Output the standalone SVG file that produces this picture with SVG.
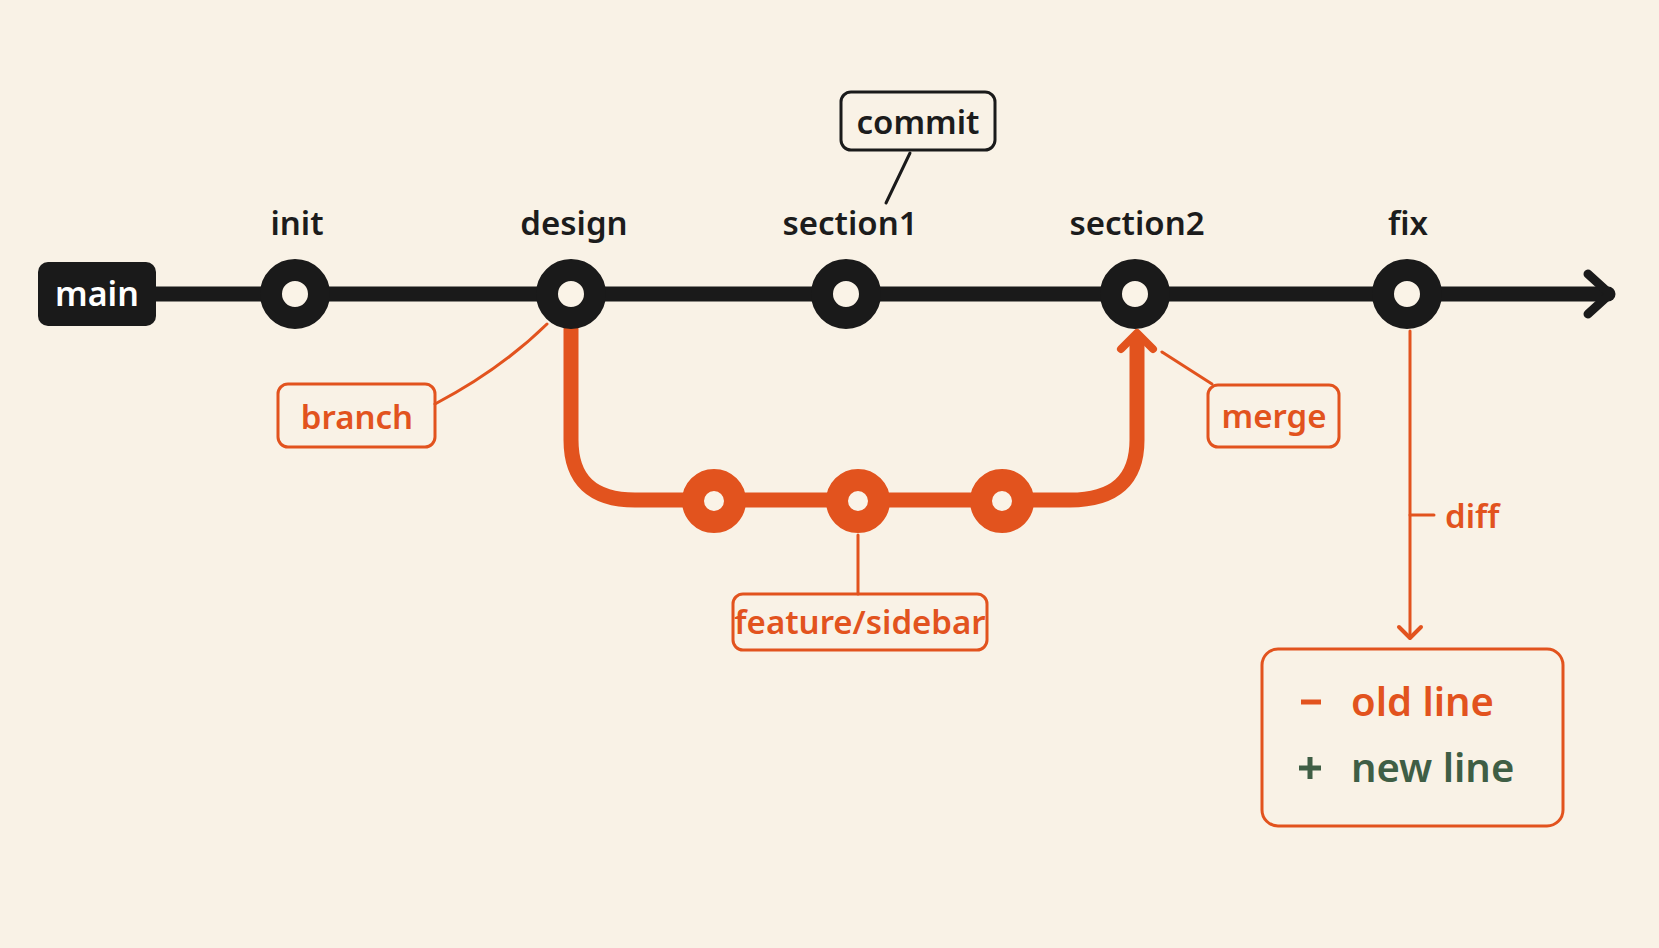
<svg xmlns="http://www.w3.org/2000/svg" width="1659" height="948" viewBox="0 0 1659 948">
<style>
text{font-family:"Noto Sans","Open Sans",sans-serif;font-weight:600}
.lbl{font-size:33px;fill:#1c1c1c;text-anchor:middle}
.olbl{font-size:33px;fill:#e2531e;text-anchor:middle}
.bc{fill:#faf3e7;stroke:#1a1a1a;stroke-width:22}
.oc{fill:#faf3e7;stroke:#e2531e;stroke-width:22}
.obox{fill:none;stroke:#e2531e;stroke-width:3}
</style>
<rect width="1659" height="948" fill="#f9f2e6"/>
<g id="connectors" fill="none" stroke-linecap="round" stroke-linejoin="round">
<line x1="156" y1="294" x2="1608" y2="294" stroke="#1a1a1a" stroke-width="15"/>
<polyline points="1588,274 1610,294 1588,314" stroke="#1a1a1a" stroke-width="9"/>
<path d="M571,329 V440 Q571,500 635,500 H1070 Q1137,500 1137,440 V340" stroke="#e2531e" stroke-width="15"/>
<polyline points="1121,349 1137,333 1153,349" stroke="#e2531e" stroke-width="8"/>
<path d="M435,404 Q500,370 547,324" stroke="#e2531e" stroke-width="3"/>
<line x1="858" y1="535" x2="858" y2="594" stroke="#e2531e" stroke-width="3"/>
<line x1="1162" y1="352" x2="1212" y2="384" stroke="#e2531e" stroke-width="3"/>
<line x1="910" y1="153" x2="886" y2="203" stroke="#1a1a1a" stroke-width="3"/>
<line x1="1410" y1="331" x2="1410" y2="638" stroke="#e2531e" stroke-width="3"/>
<line x1="1410" y1="515" x2="1434" y2="515" stroke="#e2531e" stroke-width="3"/>
<polyline points="1399,627 1410,638 1421,627" stroke="#e2531e" stroke-width="4"/>
</g>
<g id="main"><rect x="38" y="262" width="118" height="64" rx="10" fill="#1a1a1a"/><text x="97" y="306" font-size="34" fill="#fff" text-anchor="middle">main</text></g>
<g id="init"><circle class="bc" cx="295" cy="294" r="24"/><text class="lbl" x="297" y="235">init</text></g>
<g id="design"><circle class="bc" cx="571" cy="294" r="24"/><text class="lbl" x="574" y="235">design</text></g>
<g id="section1"><circle class="bc" cx="846" cy="294" r="24"/><text class="lbl" x="850" y="235">section1</text></g>
<g id="section2"><circle class="bc" cx="1135" cy="294" r="24"/><text class="lbl" x="1137" y="235">section2</text></g>
<g id="fix"><circle class="bc" cx="1407" cy="294" r="24"/><text class="lbl" x="1408" y="235">fix</text></g>
<g id="commit"><rect x="841" y="92" width="154" height="58" rx="10" fill="none" stroke="#1a1a1a" stroke-width="3"/><text class="lbl" x="918" y="134">commit</text></g>
<g id="f1"><circle class="oc" cx="714" cy="501" r="21"/></g>
<g id="f2"><circle class="oc" cx="858" cy="501" r="21"/></g>
<g id="f3"><circle class="oc" cx="1002" cy="501" r="21"/></g>
<g id="branch"><rect class="obox" x="278" y="384" width="157" height="63" rx="10"/><text class="olbl" x="357" y="429">branch</text></g>
<g id="feature"><rect class="obox" x="733" y="594" width="254" height="56" rx="10"/><text class="olbl" x="860" y="634">feature/sidebar</text></g>
<g id="merge"><rect class="obox" x="1208" y="385" width="131" height="62" rx="10"/><text class="olbl" x="1274" y="428">merge</text></g>
<g id="difflabel"><text x="1445" y="528" font-size="33" fill="#e2531e">diff</text></g>
<g id="diffbox"><rect class="obox" x="1262" y="649" width="301" height="177" rx="16"/>
<line x1="1301" y1="702" x2="1321" y2="702" stroke="#e2531e" stroke-width="5"/>
<text x="1351" y="716" font-size="40" fill="#e2531e">old line</text>
<path d="M1299,768 H1321 M1310,757 V779" stroke="#3f5e45" stroke-width="5"/>
<text x="1351" y="782" font-size="40" fill="#3f5e45">new line</text></g>
</svg>
